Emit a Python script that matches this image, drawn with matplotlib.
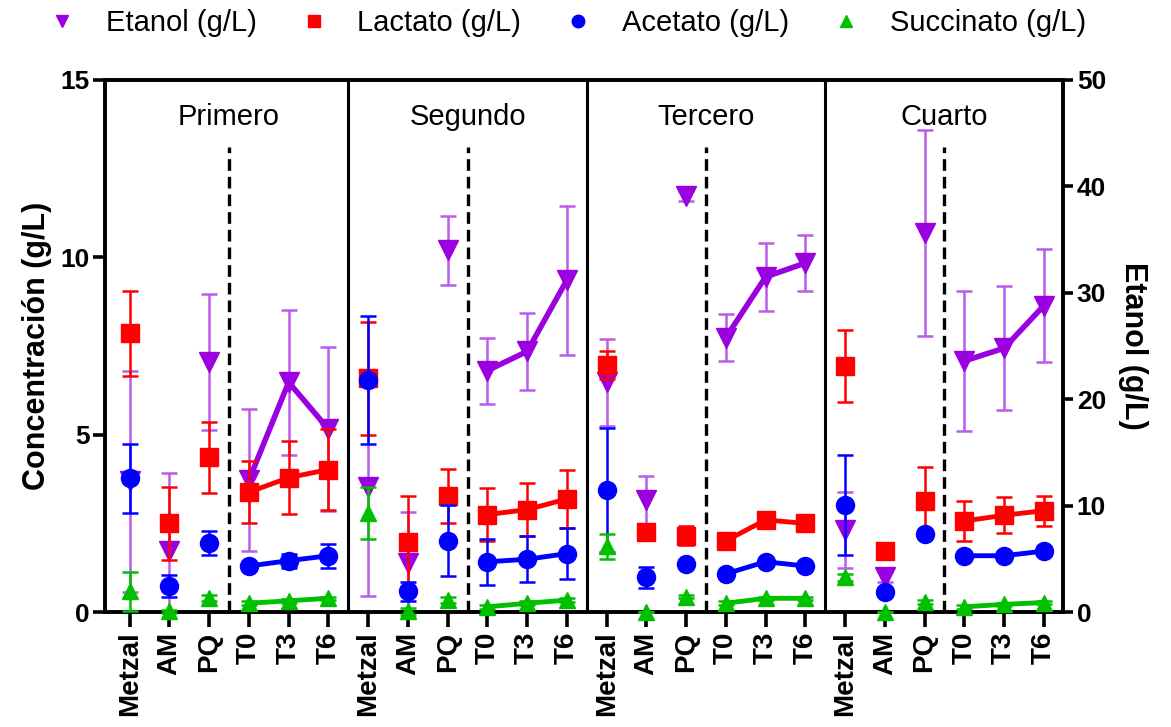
import numpy as np
import matplotlib
matplotlib.use("Agg")
import matplotlib.pyplot as plt
from matplotlib.lines import Line2D

plt.rcParams['font.family'] = ['Liberation Sans', 'DejaVu Sans']

groups = ["Primero", "Segundo", "Tercero", "Cuarto"]
cats = ["Metzal", "AM", "PQ", "T0", "T3", "T6"]
labels = cats * 4

etanol = [12.3, 5.7, 23.5, 12.4, 21.6, 17.2,
          11.8, 4.6, 34.0, 22.7, 24.5, 31.2,
          21.6, 10.5, 39.1, 25.8, 31.5, 32.8,
          7.7, 3.3, 35.6, 23.6, 24.8, 28.8]
etanol_err = [10.4, 7.4, 6.4, 6.7, 6.8, 7.7,
              10.3, 4.8, 3.25, 3.1, 3.6, 7.0,
              4.1, 2.3, 0.5, 2.2, 3.2, 2.6,
              3.6, 0.5, 9.7, 6.6, 5.8, 5.3]
lactato = [7.86, 2.5, 4.36, 3.38, 3.79, 4.02,
           6.59, 1.98, 3.28, 2.75, 2.89, 3.19,
           6.96, 2.27, 2.16, 2.01, 2.6, 2.5,
           6.94, 1.72, 3.12, 2.57, 2.73, 2.86]
lactato_err = [1.2, 1.03, 1.0, 0.87, 1.03, 1.15,
               1.6, 1.3, 0.76, 0.75, 0.75, 0.83,
               0.4, 0.1, 0.27, 0.05, 0.05, 0.05,
               1.02, 0.0, 0.97, 0.57, 0.51, 0.42]
acetato = [3.77, 0.74, 1.94, 1.30, 1.45, 1.59,
           6.55, 0.59, 2.01, 1.42, 1.49, 1.65,
           3.45, 0.98, 1.37, 1.08, 1.42, 1.30,
           3.02, 0.57, 2.21, 1.59, 1.59, 1.72]
acetato_err = [0.97, 0.31, 0.34, 0.1, 0.2, 0.34,
               1.8, 0.27, 1.0, 0.65, 0.65, 0.71,
               1.75, 0.29, 0.1, 0.05, 0.05, 0.05,
               1.42, 0.05, 0.1, 0.05, 0.05, 0.05]
succinato = [0.59, 0.02, 0.39, 0.25, 0.32, 0.39,
             2.79, 0.02, 0.34, 0.15, 0.25, 0.34,
             1.86, 0.0, 0.44, 0.25, 0.39, 0.39,
             0.98, 0.0, 0.29, 0.15, 0.22, 0.27]
succinato_err = [0.55, 0.05, 0.08, 0.05, 0.05, 0.05,
                 0.74, 0.1, 0.08, 0.05, 0.05, 0.05,
                 0.35, 0.0, 0.05, 0.05, 0.05, 0.05,
                 0.1, 0.0, 0.05, 0.05, 0.05, 0.05]

x = np.arange(len(labels))

fig = plt.figure(figsize=(11.71, 7.27), dpi=100)
ax = fig.add_axes([0.0897, 0.158, 0.818, 0.732])
ax2 = ax.twinx()
ax.set_zorder(2)
ax2.set_zorder(1)
ax.patch.set_visible(False)

ax.set_xlim(-0.62, 23.48)
ax.set_ylim(0, 15)
ax2.set_ylim(0, 50)

eth_c = '#9B00E0'
eth_ec = '#B85CEB'
lac_c = '#FF0000'
ace_c = '#0000FF'
suc_c = '#00C000'

cap = 6
elw = 1.8

# Ethanol on right axis
ax2.errorbar(x, etanol, yerr=etanol_err, fmt='none', ecolor=eth_ec, elinewidth=elw, capsize=cap, capthick=elw, zorder=2)
for g in range(4):
    idx = [6 * g + 3, 6 * g + 4, 6 * g + 5]
    ax2.plot(x[idx], np.array(etanol)[idx], color=eth_c, lw=4, zorder=3)
ax2.plot(x, etanol, ls='none', marker='v', ms=14, color=eth_c, zorder=4, clip_on=False)

series = [(lactato, lactato_err, lac_c, 's', 13, 3.5),
          (acetato, acetato_err, ace_c, 'o', 13, 3.5),
          (succinato, succinato_err, suc_c, '^', 12, 3.5)]
z = 3
for vals, errs, c, m, ms, lw in series:
    ax.errorbar(x, vals, yerr=errs, fmt='none', ecolor=c, elinewidth=elw, capsize=cap, capthick=elw, zorder=z, clip_on=False)
    for g in range(4):
        idx = [6 * g + 3, 6 * g + 4, 6 * g + 5]
        ax.plot(x[idx], np.array(vals)[idx], color=c, lw=lw, zorder=z)
    ax.plot(x, vals, ls='none', marker=m, ms=ms, color=c, zorder=z + 0.5, clip_on=False)
    z += 1

# group separators and dashed lines
for g in range(1, 4):
    ax.axvline(6 * g - 0.5, color='black', lw=2.2, zorder=10)
for g in range(4):
    xd = 6 * g + 2.5
    ax.plot([xd, xd], [0, 13.1], color='black', lw=2.4, ls=(0, (3.5, 1.8)), zorder=1)
    ax.text(xd, 13.95, groups[g], ha='center', va='center', fontsize=21)

# spines and ticks
for a in (ax, ax2):
    for s in a.spines.values():
        s.set_linewidth(2.6)
ax.set_xticks(x)
ax.set_xticklabels(labels, rotation=90, fontsize=20, fontweight='bold')
ax.set_yticks([0, 5, 10, 15])
ax.tick_params(axis='y', labelsize=19, width=2.6, length=9, direction='out', pad=2)
ax.tick_params(axis='x', width=2.6, length=11, direction='out', pad=3)
for t in ax.get_yticklabels():
    t.set_fontweight('bold')
ax2.set_yticks([0, 10, 20, 30, 40, 50])
ax2.tick_params(axis='y', labelsize=19, width=2.6, length=7, direction='out', pad=3)
for t in ax2.get_yticklabels():
    t.set_fontweight('bold')

ax.set_ylabel('Concentración (g/L)', fontsize=22, fontweight='bold', labelpad=6)
ax2.set_ylabel('Etanol (g/L)', fontsize=22, fontweight='bold', rotation=270, labelpad=30)

handles = [Line2D([], [], ls='none', marker='v', ms=9, color=eth_c),
           Line2D([], [], ls='none', marker='s', ms=9, color=lac_c),
           Line2D([], [], ls='none', marker='o', ms=9, color=ace_c),
           Line2D([], [], ls='none', marker='^', ms=9, color=suc_c)]
leg_labels = ['Etanol (g/L)', 'Lactato (g/L)', 'Acetato (g/L)', 'Succinato (g/L)']
fig.legend(handles, leg_labels, loc='center', bbox_to_anchor=(0.484, 0.968), ncol=4,
           frameon=False, fontsize=21, handletextpad=1.0, columnspacing=1.45, handlelength=1.0)

fig.savefig('out.png', dpi=100)
